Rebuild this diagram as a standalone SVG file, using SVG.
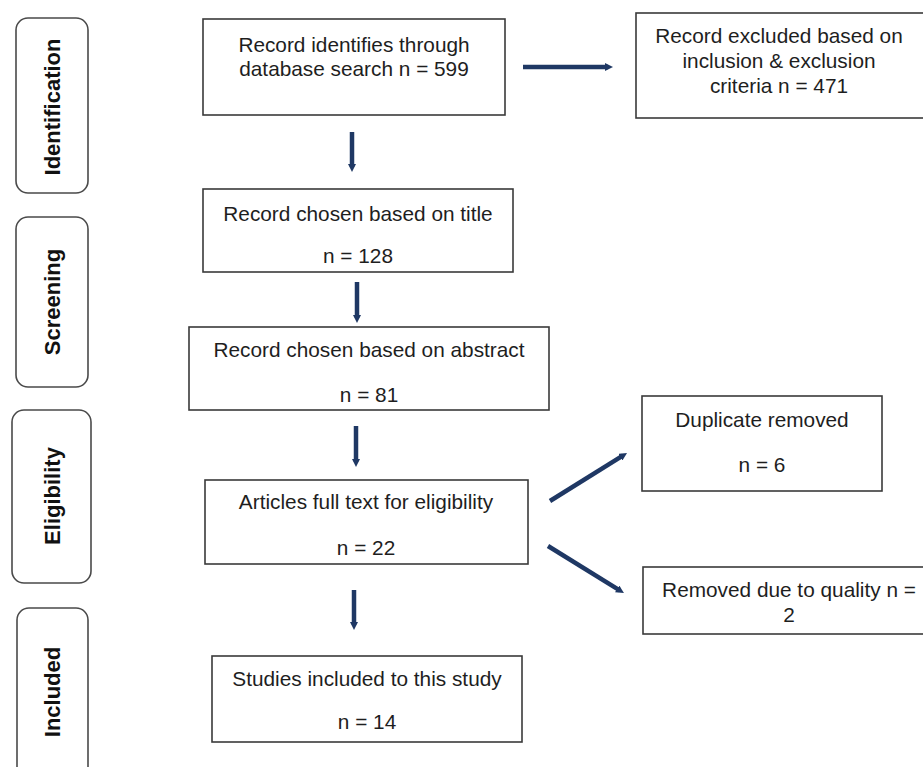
<svg xmlns="http://www.w3.org/2000/svg" width="923" height="767" viewBox="0 0 923 767">
<style>
.box{fill:#fff;stroke:#3a3a3a;stroke-width:1.6}
.stage{fill:#fff;stroke:#4a4a4a;stroke-width:1.6}
.t{font-family:"Liberation Sans",Arial,sans-serif;font-size:20.8px;fill:#1e1e1e;text-anchor:middle}
.s{font-family:"Liberation Sans",Arial,sans-serif;font-size:22px;font-weight:bold;fill:#111;text-anchor:middle}
.arr{stroke:#1f3864;stroke-width:4.5;fill:none;marker-end:url(#ah)}
</style>
<defs>
<marker id="ah" viewBox="0 0 8 8" markerWidth="8" markerHeight="8" markerUnits="userSpaceOnUse" refX="3" refY="4" orient="auto">
<path d="M0,0 L8,4 L0,8 z" fill="#1f3864"/>
</marker>
</defs>
<rect width="923" height="767" fill="#fff"/>

<g id="stage-identification">
<rect class="stage" x="16" y="18" width="72" height="175" rx="12"/>
<text class="s" transform="translate(60,107) rotate(-90)">Identification</text>
</g>
<g id="stage-screening">
<rect class="stage" x="16" y="217" width="72" height="170" rx="12"/>
<text class="s" transform="translate(60,302) rotate(-90)">Screening</text>
</g>
<g id="stage-eligibility">
<rect class="stage" x="12" y="410" width="79" height="173" rx="12"/>
<text class="s" transform="translate(60,496) rotate(-90)">Eligibility</text>
</g>
<g id="stage-included">
<rect class="stage" x="17" y="608" width="71" height="175" rx="12"/>
<text class="s" transform="translate(60,692) rotate(-90)">Included</text>
</g>

<g id="n-identified">
<rect class="box" x="203" y="19" width="302" height="96"/>
<text class="t" x="354" y="52">Record identifies through</text>
<text class="t" x="354" y="76">database search n = 599</text>
</g>
<g id="n-excluded">
<rect class="box" x="636" y="13" width="290" height="105"/>
<text class="t" x="779" y="43">Record excluded based on</text>
<text class="t" x="779" y="68">inclusion &amp; exclusion</text>
<text class="t" x="779" y="93">criteria n = 471</text>
</g>
<g id="n-title">
<rect class="box" x="203" y="189" width="310" height="83"/>
<text class="t" x="358" y="221">Record chosen based on title</text>
<text class="t" x="358" y="263">n = 128</text>
</g>
<g id="n-abstract">
<rect class="box" x="189" y="327" width="360" height="83"/>
<text class="t" x="369" y="357">Record chosen based on abstract</text>
<text class="t" x="369" y="402">n = 81</text>
</g>
<g id="n-fulltext">
<rect class="box" x="205" y="480" width="323" height="84"/>
<text class="t" x="366" y="509">Articles full text for eligibility</text>
<text class="t" x="366" y="555">n = 22</text>
</g>
<g id="n-included">
<rect class="box" x="212" y="656" width="310" height="86"/>
<text class="t" x="367" y="686">Studies included to this study</text>
<text class="t" x="367" y="729">n = 14</text>
</g>
<g id="n-duplicate">
<rect class="box" x="642" y="396" width="240" height="95"/>
<text class="t" x="762" y="427">Duplicate removed</text>
<text class="t" x="762" y="472">n = 6</text>
</g>
<g id="n-quality">
<rect class="box" x="643" y="567" width="290" height="67"/>
<text class="t" x="789" y="597">Removed due to quality n =</text>
<text class="t" x="789" y="622">2</text>
</g>

<g id="connectors">
<line class="arr" x1="523" y1="67" x2="608" y2="67"/>
<line class="arr" x1="352" y1="132" x2="352" y2="167"/>
<line class="arr" x1="357" y1="282" x2="357" y2="318"/>
<line class="arr" x1="356" y1="426" x2="356" y2="462"/>
<line class="arr" x1="354" y1="590" x2="354" y2="625"/>
<line class="arr" x1="550" y1="501" x2="622.8" y2="455.6"/>
<line class="arr" x1="548" y1="546" x2="619.7" y2="590.4"/>
</g>
</svg>
